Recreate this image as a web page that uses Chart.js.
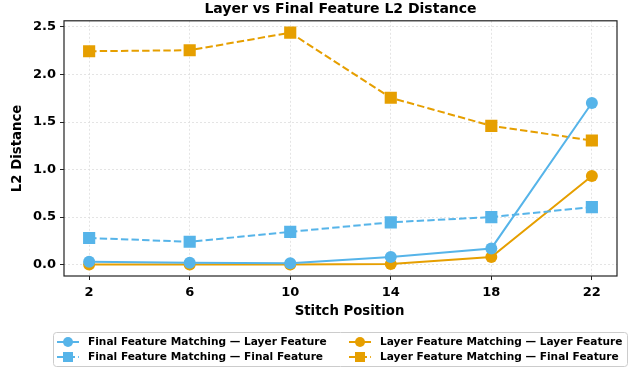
<!DOCTYPE html>
<html><head><meta charset="utf-8">
<script src="https://cdn.jsdelivr.net/npm/chart.js@4/dist/chart.umd.min.js"></script>
<style>html,body{margin:0;padding:0;background:#fff}#wrap{width:636px;height:368px}</style>
</head><body><div id="wrap"><canvas id="c" width="636" height="368"></canvas></div>
<script>
const stitchPositions = [2, 6, 10, 14, 18, 22];
const finalMatchLayerFeat = [0.03, 0.02, 0.015, 0.08, 0.17, 1.70];
const finalMatchFinalFeat = [0.28, 0.24, 0.345, 0.445, 0.50, 0.605];
const layerMatchLayerFeat = [0.0, 0.0, 0.0, 0.005, 0.08, 0.932];
const layerMatchFinalFeat = [2.245, 2.255, 2.44, 1.755, 1.46, 1.306];
const yTicks = [0, 0.5, 1.0, 1.5, 2.0, 2.5];
const seriesNames = ['Final Feature Matching \u2014 Layer Feature','Final Feature Matching \u2014 Final Feature','Layer Feature Matching \u2014 Layer Feature','Layer Feature Matching \u2014 Final Feature'];
const chartTitle = 'Layer vs Final Feature L2 Distance';
const xLabel = 'Stitch Position';
const yLabel = 'L2 Distance';

const BLUE = '#56B4E9', ORANGE = '#E69F00';
const FONT = "'DejaVu Sans', sans-serif";
const toPts = arr => arr.map((v, i) => ({x: stitchPositions[i], y: v}));

function ds(label, data, color, style, dashed) {
  return {label, data: toPts(data), borderColor: color, backgroundColor: color,
    borderWidth: 2, borderDash: dashed ? [7.4, 3.2] : [], pointStyle: style,
    pointRadius: style === 'rect' ? 8.6 : 6, pointHoverRadius: style === 'rect' ? 8.6 : 6,
    pointBorderWidth: 0, tension: 0, fill: false, _dashed: dashed};
}

const legendPlugin = {
  id: 'customLegend',
  afterDraw(chart) {
    const ctx = chart.ctx;
    ctx.save();
    // x-axis label
    ctx.fillStyle = '#000'; ctx.font = "bold 13.3px " + FONT; ctx.textAlign = 'center'; ctx.textBaseline = 'middle';
    ctx.fillText(xLabel, 349.5, 312);
    // legend box
    ctx.strokeStyle = '#cccccc'; ctx.lineWidth = 1;
    const bx = 53.5, by = 332.5, bw = 574, bh = 34, r = 3;
    ctx.beginPath();
    ctx.moveTo(bx + r, by); ctx.lineTo(bx + bw - r, by); ctx.arcTo(bx + bw, by, bx + bw, by + r, r);
    ctx.lineTo(bx + bw, by + bh - r); ctx.arcTo(bx + bw, by + bh, bx + bw - r, by + bh, r);
    ctx.lineTo(bx + r, by + bh); ctx.arcTo(bx, by + bh, bx, by + bh - r, r);
    ctx.lineTo(bx, by + r); ctx.arcTo(bx, by, bx + r, by, r); ctx.closePath(); ctx.stroke();
    const pos = [[57, 342], [57, 357], [349, 342], [349, 357]];
    chart.data.datasets.forEach((d, i) => {
      const [x, y] = pos[i];
      ctx.strokeStyle = d.borderColor; ctx.lineWidth = 2;
      ctx.setLineDash(d._dashed ? [7.4, 3.2] : []);
      ctx.beginPath(); ctx.moveTo(x, y); ctx.lineTo(x + 22, y); ctx.stroke();
      ctx.setLineDash([]);
      ctx.fillStyle = d.backgroundColor;
      if (d.pointStyle === 'rect') { ctx.fillRect(x + 11 - 5, y - 5, 10, 10); }
      else { ctx.beginPath(); ctx.arc(x + 11, y, 5, 0, Math.PI * 2); ctx.fill(); }
      ctx.fillStyle = '#000'; ctx.font = "bold 10.6px " + FONT; ctx.textBaseline = 'middle'; ctx.textAlign = 'left';
      ctx.fillText(d.label, x + 31, y + 0.5);
    });
    const a = chart.chartArea;
    ctx.strokeStyle = '#222'; ctx.lineWidth = 1.2;
    ctx.strokeRect(a.left, a.top, a.right - a.left, a.bottom - a.top);
    ctx.restore();
  }
};

new Chart(document.getElementById('c'), {
  type: 'line',
  data: {datasets: [
    ds(seriesNames[0], finalMatchLayerFeat, BLUE, 'circle', false),
    ds(seriesNames[1], finalMatchFinalFeat, BLUE, 'rect', true),
    ds(seriesNames[2], layerMatchLayerFeat, ORANGE, 'circle', false),
    ds(seriesNames[3], layerMatchFinalFeat, ORANGE, 'rect', true)
  ]},
  options: {
    responsive: false, animation: false, devicePixelRatio: 1,
    layout: {padding: {left: 0, right: 19, top: 0, bottom: 44}},
    plugins: {
      legend: {display: false}, tooltip: {enabled: false},
      title: {display: true, text: chartTitle, color: '#000', fullSize: false,
        font: {family: FONT, size: 14, weight: 'bold'}, padding: {top: 1, bottom: 3}}
    },
    scales: {
      x: {type: 'linear', min: 1, max: 23,
        afterFit(s) { s.height = 48; },
        afterBuildTicks(s) { s.ticks = stitchPositions.map(v => ({value: v})); },
        grid: {color: '#dddddd', lineWidth: 0.8, tickColor: '#222', tickLength: 4, tickBorderDash: [], tickWidth: 1},
        border: {display: false, dash: [2, 2]},
        ticks: {color: '#000', font: {family: FONT, size: 13, weight: 'bold'}, padding: 5, maxRotation: 0},
        title: {display: false}
      },
      y: {type: 'linear', min: -0.12, max: 2.565,
        afterFit(s) { s.width = 64; },
        afterBuildTicks(s) { s.ticks = yTicks.map(v => ({value: v})); },
        grid: {color: '#dddddd', lineWidth: 0.8, tickColor: '#222', tickLength: 4, tickBorderDash: [], tickWidth: 1},
        border: {display: false, dash: [2, 2]},
        ticks: {color: '#000', font: {family: FONT, size: 13, weight: 'bold'}, padding: 4, callback: v => v.toFixed(1)},
        title: {display: true, text: yLabel, color: '#000', font: {family: FONT, size: 13.3, weight: 'bold'}, padding: {top: 10, bottom: 0}}
      }
    }
  },
  plugins: [legendPlugin]
});
</script></body></html>
